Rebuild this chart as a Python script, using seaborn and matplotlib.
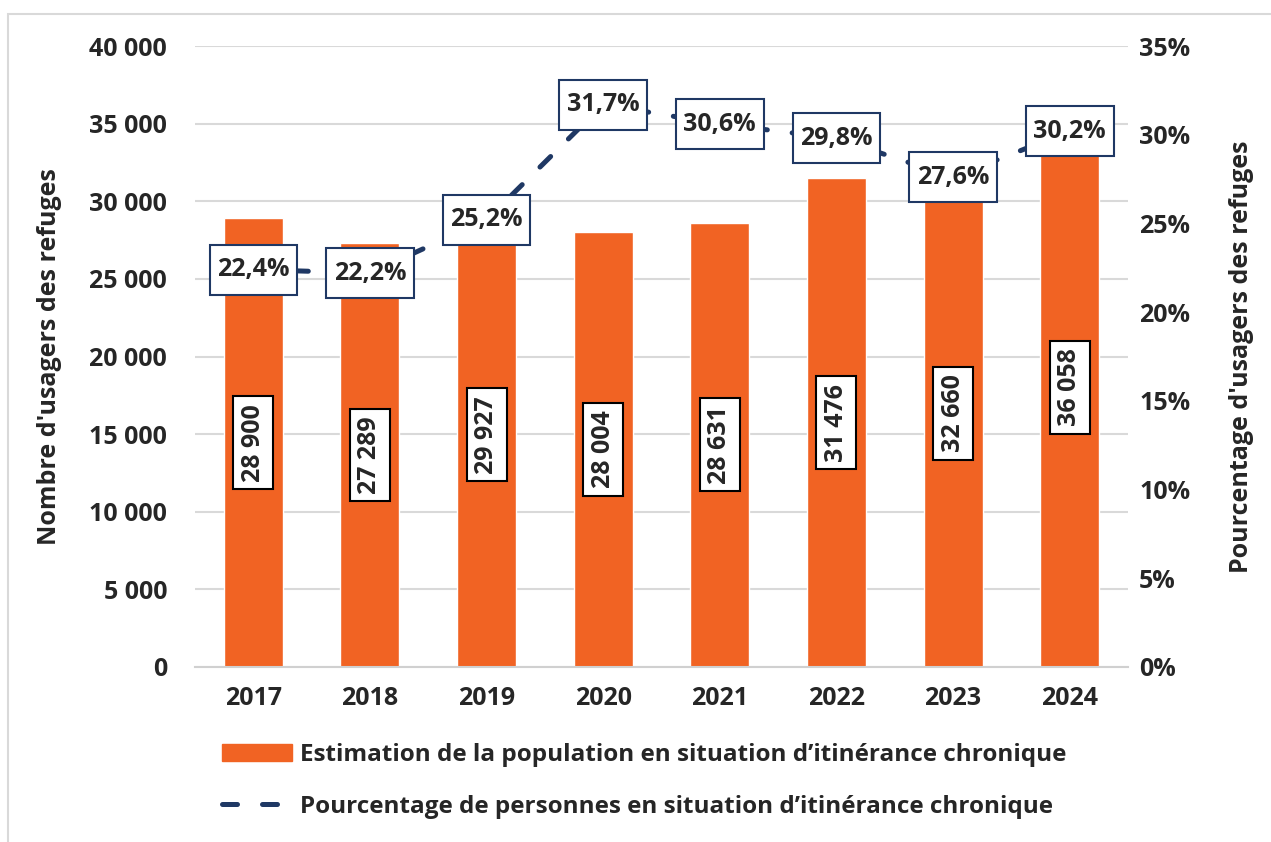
import matplotlib
matplotlib.use("Agg")
from matplotlib import pyplot as plt
from matplotlib.patches import Patch, Rectangle
from matplotlib.lines import Line2D
from matplotlib.path import Path
from matplotlib.ticker import FuncFormatter, FixedLocator
from functools import partial
import seaborn as sns
import pandas as pd
import numpy as np

# data
years = ["2017", "2018", "2019", "2020", "2021", "2022", "2023", "2024"]
population = [28900, 27289, 29927, 28004, 28631, 31476, 32660, 36058]
pct_chronique = [22.4, 22.2, 25.2, 31.7, 30.6, 29.8, 27.6, 30.2]

bar_label = "Estimation de la population en situation d\u2019itinérance chronique"
line_label = "Pourcentage de personnes en situation d\u2019itinérance chronique"

orange = "#F16323"
navy = "#1F3864"
FS = 18


def pad_box(x0, y0, width, height, mutation_size, padx=0.3, pady=0.5):
    # rectangle box with different padding along and across the text
    px, py = padx * mutation_size, pady * mutation_size
    x0, y0 = x0 - px, y0 - py
    x1, y1 = x0 + width + 2 * px, y0 + height + 2 * py
    return Path([(x0, y0), (x1, y0), (x1, y1), (x0, y1), (x0, y0)],
                closed=True)


sns.set_style("white")
plt.rcParams["font.family"] = ["Open Sans", "DejaVu Sans"]
plt.rcParams["font.weight"] = "bold"

df = pd.DataFrame({"year": years, "pop": population, "pct": pct_chronique})

fig = plt.figure(figsize=(12.71, 8.42), dpi=100)
ax = fig.add_axes([195 / 1271, 1 - 667 / 842, (1128 - 195) / 1271, (667 - 46) / 842])

sns.barplot(data=df, x="year", y="pop", color=orange, saturation=1, width=0.505, ax=ax, zorder=2)
ax.set_xlim(-0.5, len(years) - 0.5)
ax.set_ylim(0, 40000)
ax.set_yticks(np.arange(0, 40001, 5000))
ax.yaxis.set_major_formatter(FuncFormatter(lambda v, p: f"{int(v):,}".replace(",", " ")))
ax.grid(axis="y", color="#D9D9D9", linewidth=1.5, zorder=0)
ax.set_axisbelow(True)
for s in ["top", "left", "right"]:
    ax.spines[s].set_visible(False)
ax.spines["bottom"].set_color("#D0D0D0")
ax.spines["bottom"].set_linewidth(1.5)
ax.xaxis.set_minor_locator(FixedLocator(np.arange(-0.5, len(years), 1)))
ax.tick_params(axis="x", which="minor", length=7, width=1.5, color="#D0D0D0", direction="out")
ax.tick_params(axis="x", which="major", length=0, labelsize=FS, pad=14)
ax.tick_params(axis="y", length=0, labelsize=FS, pad=20)
ax.set_xlabel("")
ax.set_ylabel("Nombre d'usagers des refuges", fontsize=FS, fontweight="bold", labelpad=20)

# value labels in the middle of bars
for i, v in enumerate(population):
    ax.text(i, v / 2, f"{v:,}".replace(",", " "), rotation=90, ha="center", va="center",
            fontsize=FS, fontweight="bold", zorder=5,
            bbox=dict(boxstyle=partial(pad_box, padx=0.3, pady=0.3),
                      fc="white", ec="black", lw=1.5))

ax2 = ax.twinx()
ax2.set_position(ax.get_position())
sns.lineplot(x=np.arange(len(years)), y=pct_chronique, ax=ax2, color=navy, linewidth=3.6,
             zorder=3)
ln = ax2.lines[0]
ln.set_dashes((3, 5))
ln.set_dash_capstyle("round")
ax2.set_ylim(0, 35)
ax2.set_yticks(np.arange(0, 36, 5))
ax2.yaxis.set_major_formatter(FuncFormatter(lambda v, p: f"{v:.0f}%"))
for s in ["top", "left", "right", "bottom"]:
    ax2.spines[s].set_visible(False)
ax2.tick_params(axis="y", length=0, labelsize=FS, pad=8)
ax2.set_ylabel("Pourcentage d'usagers des refuges", fontsize=FS, fontweight="bold", labelpad=28)
ax2.set_xlim(ax.get_xlim())

for i, p in enumerate(pct_chronique):
    ax2.text(i, p, f"{p:.1f}%".replace(".", ","), ha="center", va="center",
             fontsize=FS, fontweight="bold", zorder=6,
             bbox=dict(boxstyle=partial(pad_box, padx=0.3, pady=0.5),
                       fc="white", ec=navy, lw=1.5))

handles = [Patch(facecolor=orange, edgecolor=orange),
           Line2D([0], [0], color=navy, lw=3.6, dashes=(3, 5), dash_capstyle="round")]
fig.legend(handles, [bar_label, line_label], loc="upper left",
           bbox_to_anchor=(200 / 1271, 1 - 721 / 842), frameon=False,
           prop=dict(size=17.5, weight="bold"), handlelength=2.9, handleheight=0.7,
           labelspacing=1.15, handletextpad=0.3)

# light frame around the figure
fig.patches.append(Rectangle((8 / 1271, -0.1), 1.1, 1 - 14 / 842 + 0.1,
                             transform=fig.transFigure, fill=False, ec="#D9D9D9", lw=1.5))

fig.savefig("out.png", dpi=100)
